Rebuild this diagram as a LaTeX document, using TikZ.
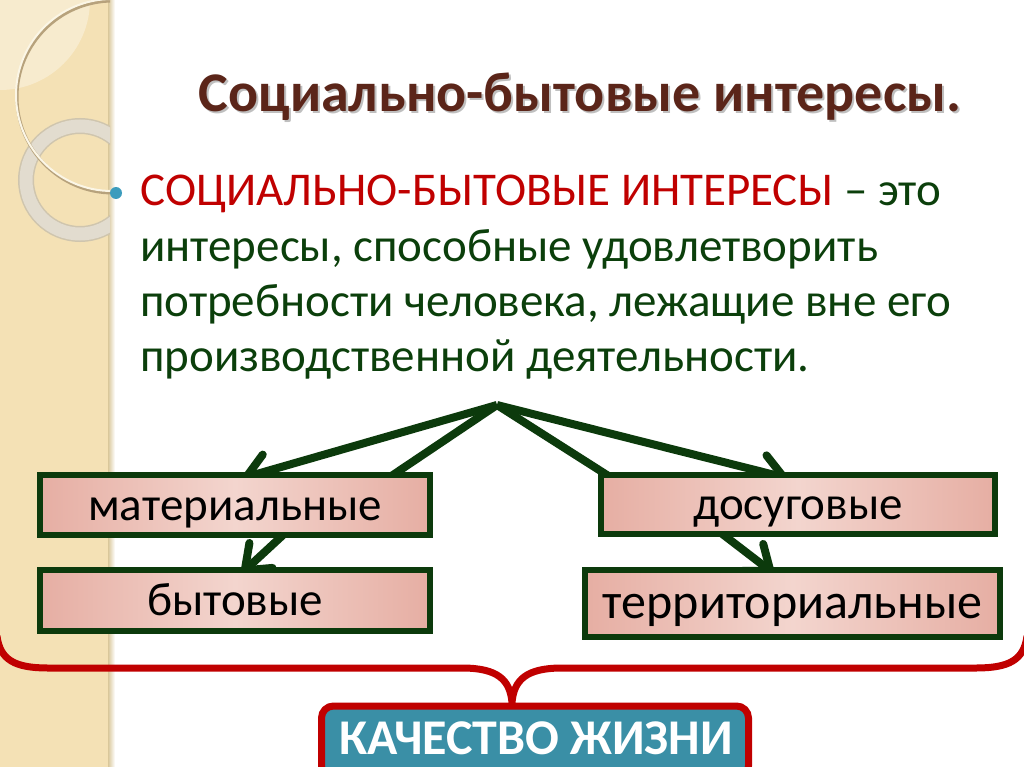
\documentclass[tikz,border=0pt]{standalone}
\usepackage{fontspec}
\setmainfont{Carlito}
\usetikzlibrary{arrows.meta,calc,shadows}
\definecolor{stripc}{HTML}{F4E1B5}
\definecolor{stripedge}{HTML}{D9C79A}
\definecolor{ringc}{HTML}{E2DCCF}
\definecolor{ringedge}{HTML}{CFC5AE}
\definecolor{creamc}{HTML}{FBF6E6}
\definecolor{circshadow}{HTML}{B7A27C}
\definecolor{titlec}{HTML}{5B2519}
\definecolor{redc}{HTML}{C00000}
\definecolor{greenc}{HTML}{0B3F0B}
\definecolor{connc}{HTML}{0C3A0C}
\definecolor{boxedge}{HTML}{E6AEA3}
\definecolor{boxmid}{HTML}{F3D5CE}
\definecolor{tealc}{HTML}{3A8FA6}
\definecolor{bulletc}{HTML}{3C9CBD}
\tikzset{
  boxst/.style={draw=connc, line width=6pt, left color=boxedge, right color=boxedge,
    middle color=boxmid, font=\fontsize{47}{56}\selectfont, text=black, inner sep=0pt,
    text height=40pt, text depth=10pt,
    drop shadow={shadow xshift=2pt, shadow yshift=-3pt, opacity=0.25, fill=black}},
  conn/.style={draw=connc, line width=8pt},
  barb/.style={-{Straight Barb[length=22pt, width=34pt, line cap=round]}},
  bodyline/.style={anchor=base west, inner sep=0pt, font=\fontsize{47}{56}\selectfont, text=greenc}
}
\begin{document}
\begin{tikzpicture}[x=1pt,y=-1pt]
\useasboundingbox (0,0) rectangle (1024,767);
\fill[white] (0,0) rectangle (1024,767);
% left decorative strip
\fill[stripc] (0,0) rectangle (110,767);
\shade[left color=stripedge, right color=white] (108,0) rectangle (115,767);
\begin{scope}
  \clip (0,0) rectangle (110,767);
  \fill[white, opacity=0.35] (0,0) circle (90);
  \draw[ringedge, line width=16pt] (80,180) circle (54);
  \draw[ringc, line width=13pt] (80,180) circle (54);
  \draw[circshadow, line width=3pt] (113,97) circle (96);
  \draw[creamc, line width=2pt] (112,95) circle (96);
\end{scope}
% bullet
\fill[bulletc] (116,193) circle (6);
% title
\node[anchor=base, font=\bfseries\fontsize{56}{64}\selectfont, text=black!25] at (582,114) {Социально-бытовые интересы.};
\node[anchor=base, font=\bfseries\fontsize{56}{64}\selectfont, text=titlec] (title) at (580,112) {Социально-бытовые интересы.};
% body
\node[bodyline] (l1) at (140,206) {\textcolor{redc}{СОЦИАЛЬНО-БЫТОВЫЕ ИНТЕРЕСЫ} – это};
\node[bodyline] (l2) at (140,261) {интересы, способные удовлетворить};
\node[bodyline] (l3) at (140,316) {потребности человека, лежащие вне его};
\node[bodyline] (l4) at (140,371) {производственной деятельности.};
% boxes geometry (placed first, drawn later over connectors)
\coordinate (apex) at (497,405);
\path (235,505) node[minimum width=390pt, minimum height=60pt] (matp) {}
      (235,600.5) node[minimum width=390pt, minimum height=61pt] (bytp) {}
      (798,504.5) node[minimum width=394pt, minimum height=59pt] (dosp) {}
      (792.5,603.5) node[minimum width=415pt, minimum height=67pt] (terp) {};
% connectors
\draw[conn, barb] (apex) -- ($(matp.north)+(5,4)$);
\draw[conn] (apex) -- ($(matp.north east)+(-40,2)$);
\draw[conn, barb] (apex) -- ($(dosp.north)+(-8,4)$);
\draw[conn] (apex) -- ($(dosp.north west)+(9,2)$);
\draw[conn, barb] ($(matp.south)+(50,-2)$) -- ($(bytp.north)+(5,5)$);
\draw[conn, barb] ($(dosp.south)+(-78,-2)$) -- ($(terp.north)+(-17,5)$);
% boxes
\node[boxst, minimum width=390pt, minimum height=60pt] (mat) at (235,505) {материальные};
\node[boxst, minimum width=390pt, minimum height=61pt] (byt) at (235,600.5) {бытовые};
\node[boxst, minimum width=394pt, minimum height=59pt] (dos) at (798,504.5) {досуговые};
\node[boxst, minimum width=415pt, minimum height=67pt, font=\fontsize{50}{60}\selectfont] (ter) at (792.5,603.5) {территориальные};
% quality box
\node[draw=redc, fill=tealc, line width=7pt, rounded corners=12pt, minimum width=427pt,
      minimum height=72pt, inner sep=0pt] (qual) at (535,742) {};
\node[anchor=base, inner sep=0pt, text=white, font=\bfseries\fontsize{50}{60}\selectfont]
      (qualtxt) at (536,754) {КАЧЕСТВО ЖИЗНИ};
% brace
\coordinate (bl) at (-3,636);
\coordinate (br) at (1027,636);
\coordinate (tip) at ($(qual.north)+(-23,0)$);
\draw[redc, line width=7pt, line join=round]
  (bl) .. controls (0,660) and (15,668) .. (48,668) -- (462,668)
  .. controls (498,668) and (510,680) .. (tip)
  .. controls (514,680) and (526,668) .. (562,668) -- (976,668)
  .. controls (1009,668) and (1024,660) .. (br);
\end{tikzpicture}
\end{document}
